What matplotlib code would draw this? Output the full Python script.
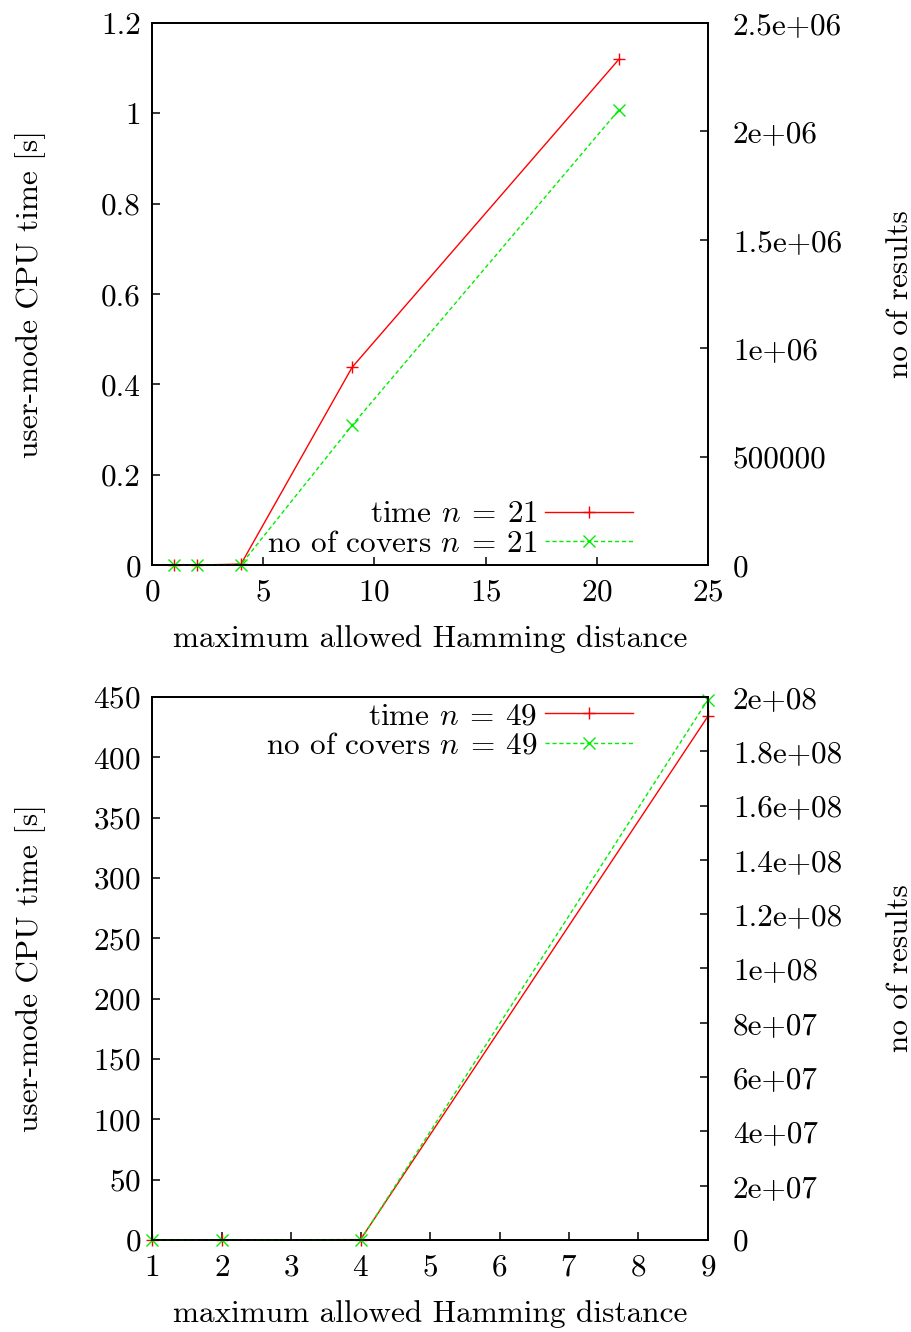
import matplotlib
matplotlib.use("Agg")
import matplotlib.pyplot as plt

plt.rcParams['font.family'] = ['cmr10', 'DejaVu Serif']
plt.rcParams['mathtext.fontset'] = 'cm'
plt.rcParams['axes.formatter.use_mathtext'] = True
plt.rcParams['font.size'] = 22.5

# n = 21 run
dist_21 = [1, 2, 4, 9, 21]
time_21 = [0.0, 0.0, 0.002, 0.438, 1.12]
covers_21 = [0, 0, 2000, 645000, 2100000]

# n = 49 run
dist_49 = [1, 2, 4, 9]
time_49 = [0.0, 0.0, 0.3, 434]
covers_49 = [0, 0, 20000, 1.99e8]

top_xticks = [0, 5, 10, 15, 20, 25]
top_yticks = [0, 0.2, 0.4, 0.6, 0.8, 1, 1.2]
top_ylabels = ['0', '0.2', '0.4', '0.6', '0.8', '1', '1.2']
top_y2ticks = [0, 500000, 1000000, 1500000, 2000000, 2500000]
top_y2labels = ['0', '500000', '1e+06', '1.5e+06', '2e+06', '2.5e+06']

bot_xticks = [1, 2, 3, 4, 5, 6, 7, 8, 9]
bot_yticks = [0, 50, 100, 150, 200, 250, 300, 350, 400, 450]
bot_y2ticks = [0, 2e7, 4e7, 6e7, 8e7, 1e8, 1.2e8, 1.4e8, 1.6e8, 1.8e8, 2e8]
bot_y2labels = ['0', '2e+07', '4e+07', '6e+07', '8e+07', '1e+08',
                '1.2e+08', '1.4e+08', '1.6e+08', '1.8e+08', '2e+08']

RED = '#ff0000'
GREEN = '#00ee00'


def style(ax, pad):
    for s in ax.spines.values():
        s.set_linewidth(1.3)
    ax.tick_params(direction='in', length=6, width=1.1, pad=pad)


def panel(rect, x, t, c, n, xlim, ylim, y2lim, xt, yt, ylab, y2t, y2lab, legend_loc):
    ax = fig.add_axes(rect)
    ax2 = ax.twinx()
    l1, = ax.plot(x, t, color=RED, lw=1.0, marker='+', ms=9, mew=1.0,
                  label=r'time $n \:=\: %d$' % n)
    l2, = ax2.plot(x, c, color=GREEN, lw=1.0, ls=(0, (3, 2)), marker='x', ms=8, mew=1.0,
                   label=r'no of covers $n \:=\: %d$' % n)
    ax.set_xlim(*xlim)
    ax.set_ylim(*ylim)
    ax2.set_ylim(*y2lim)
    ax.set_xticks(xt)
    ax.set_yticks(yt)
    if ylab is not None:
        ax.set_yticklabels(ylab)
    ax2.set_yticks(y2t)
    ax2.set_yticklabels(y2lab)
    style(ax, 8)
    style(ax2, 18)
    ax.tick_params(axis='x', pad=10)
    for a in (ax, ax2):
        for ln in a.lines:
            ln.set_clip_on(False)
    ax.set_xlabel('maximum allowed Hamming distance', labelpad=13)
    ax.set_ylabel('user-mode CPU time [s]', va='center')
    ax.yaxis.set_label_coords(-0.218, 0.5)
    ax2.set_ylabel('no of results', va='center')
    ax2.yaxis.set_label_coords(1.345, 0.5)
    leg = ax2.legend([l1, l2], [l1.get_label(), l2.get_label()], loc=legend_loc,
                     frameon=False, markerfirst=False, handlelength=2.8,
                     handletextpad=0.25, labelspacing=0.05, borderaxespad=0.0,
                     borderpad=0.0, fontsize=22.5)
    return ax, ax2, leg


fig = plt.figure(figsize=(9.12, 13.32), dpi=100)

ax, ax2, leg = panel([0.1667, 0.5758, 0.6096, 0.4069], dist_21, time_21, covers_21, 21,
                     (0, 25), (0, 1.2), (0, 2.5e6), top_xticks, top_yticks, top_ylabels,
                     top_y2ticks, top_y2labels, 'lower right')
leg.set_bbox_to_anchor((0.865, 0.013), transform=ax.transAxes)

ax, ax2, leg = panel([0.1667, 0.0691, 0.6096, 0.4077], dist_49, time_49, covers_49, 49,
                     (1, 9), (0, 450), (0, 2e8), bot_xticks, bot_yticks, None,
                     bot_y2ticks, bot_y2labels, 'upper right')
leg.set_bbox_to_anchor((0.865, 0.99), transform=ax.transAxes)

fig.savefig('out.png', dpi=100)
